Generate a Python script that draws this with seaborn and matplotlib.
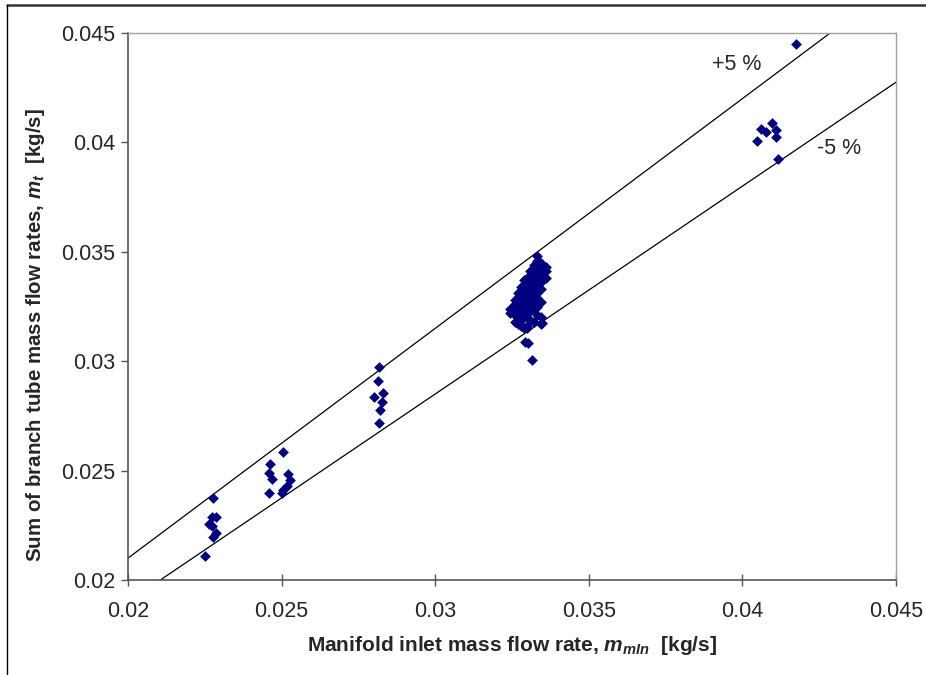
import numpy as np
import pandas as pd
import matplotlib
matplotlib.use("Agg")
import matplotlib.pyplot as plt
from matplotlib.lines import Line2D
import seaborn as sns

# ---- data ----
g1_x = [0.02278, 0.02272, 0.02286, 0.02265, 0.02274, 0.02286, 0.02278, 0.02251]
g1_y = [0.02373, 0.02289, 0.02287, 0.02256, 0.02247, 0.02216, 0.02198, 0.02111]

g2_x = [0.02462, 0.02458, 0.02468, 0.02459, 0.02506, 0.02522, 0.02527, 0.02516, 0.02506, 0.02500]
g2_y = [0.02530, 0.02488, 0.02460, 0.02399, 0.02586, 0.02483, 0.02457, 0.02430, 0.02411, 0.02399]

g3_x = [0.02817, 0.02813, 0.02802, 0.02831, 0.02826, 0.02819, 0.02817]
g3_y = [0.02975, 0.02911, 0.02838, 0.02856, 0.02815, 0.02777, 0.02719]

g4_cols = [0.03245, 0.0326, 0.0327, 0.0328, 0.0329, 0.0330, 0.0331, 0.0332, 0.0333, 0.03345, 0.0336]
g4_rows = [
    [0.0322, 0.0324],
    [0.0318, 0.0321, 0.0324, 0.0326, 0.0328],
    [0.0317, 0.0320, 0.0323, 0.0325, 0.0327, 0.0329, 0.0331],
    [0.0316, 0.0319, 0.0322, 0.0324, 0.0326, 0.0328, 0.0330, 0.0332, 0.0334],
    [0.0315, 0.0320, 0.0323, 0.0325, 0.0327, 0.0329, 0.0331, 0.0333, 0.0335, 0.0337],
    [0.0316, 0.0322, 0.0324, 0.0326, 0.0328, 0.0330, 0.0332, 0.0334, 0.0336, 0.0338],
    [0.0319, 0.0323, 0.0325, 0.0327, 0.0329, 0.0331, 0.0333, 0.0335, 0.0337, 0.0339, 0.0341],
    [0.0318, 0.0324, 0.0326, 0.0328, 0.0330, 0.0332, 0.0334, 0.0336, 0.0338, 0.0340, 0.0342, 0.0344],
    [0.0321, 0.0325, 0.0329, 0.0331, 0.0333, 0.0336, 0.0338, 0.0340, 0.0342, 0.0344, 0.0346, 0.0348],
    [0.0317, 0.0320, 0.0327, 0.0333, 0.0336, 0.0339, 0.0341, 0.0343, 0.0345],
    [0.0338, 0.0341, 0.0343],
]
g4_out_x = [0.03298, 0.03347, 0.03292, 0.03303, 0.03314]
g4_out_y = [0.03150, 0.03173, 0.03089, 0.03082, 0.03005]

g5_x = [0.04173, 0.04097, 0.04059, 0.04077, 0.04108, 0.04111, 0.04049, 0.04115]
g5_y = [0.04448, 0.04087, 0.04061, 0.04046, 0.04057, 0.04026, 0.04006, 0.03924]

band_factors = [1.05, 0.95]
band_labels = ["+5 %", "-5 %"]
ticks = [0.02, 0.025, 0.03, 0.035, 0.04, 0.045]
tick_labels = ["0.02", "0.025", "0.03", "0.035", "0.04", "0.045"]

# ---- assemble ----
xs = list(g1_x) + list(g2_x) + list(g3_x)
ys = list(g1_y) + list(g2_y) + list(g3_y)
for cx, rows in zip(g4_cols, g4_rows):
    xs += [cx] * len(rows)
    ys += rows
xs += g4_out_x + g5_x
ys += g4_out_y + g5_y
df = pd.DataFrame({"x": xs, "y": ys})

sns.set_theme(style="white")
plt.rcParams["font.family"] = ["Liberation Sans", "DejaVu Sans"]
plt.rcParams["mathtext.fontset"] = "custom"
plt.rcParams["mathtext.it"] = "Liberation Sans:bold:italic"
plt.rcParams["mathtext.rm"] = "Liberation Sans:bold"
plt.rcParams["mathtext.bf"] = "Liberation Sans:bold"

fig = plt.figure(figsize=(9.26, 6.75), dpi=100)
fig.patch.set_facecolor("white")
ax = fig.add_axes([128/926, 1-580/675, (896-128)/926, (580-33)/675])

# band lines
xl = np.array([0.02, 0.045])
for f in band_factors:
    ax.plot(xl, f * xl, color="black", lw=0.9, zorder=2)

sns.scatterplot(data=df, x="x", y="y", ax=ax, marker="D", s=30,
                color="#000080", edgecolor="#000080", linewidth=0, zorder=3)

ax.set_xlim(0.02, 0.045)
ax.set_ylim(0.02, 0.045)
ax.set_xticks(ticks)
ax.set_xticklabels(tick_labels)
ax.set_yticks(ticks)
ax.set_yticklabels(tick_labels)
ax.tick_params(axis="x", direction="inout", length=8, width=1, color="#555555",
               labelsize=15.5, pad=11, bottom=True)
ax.tick_params(axis="y", direction="out", length=5, width=1, color="#555555",
               labelsize=15.5, pad=4, left=True)

for s in ["left", "bottom"]:
    ax.spines[s].set_color("#555555")
    ax.spines[s].set_linewidth(1.2)
for s in ["top", "right"]:
    ax.spines[s].set_color("#a0a0a0")
    ax.spines[s].set_linewidth(1.0)

ax.set_xlabel("Manifold inlet mass flow rate, $m_{mIn}$  [kg/s]",
              fontsize=15, fontweight="bold", labelpad=9)
ax.set_ylabel("Sum of branch tube mass flow rates, $m_t$  [kg/s]",
              fontsize=14.8, fontweight="bold", labelpad=10)
ax.yaxis.set_label_coords(-0.106, 0.447)

ax.text(0.03982, 0.04354, band_labels[0], fontsize=15.5, ha="center", va="center")
ax.text(0.04314, 0.03970, band_labels[1], fontsize=15.5, ha="center", va="center")

# figure frame (top and left)
fig.add_artist(Line2D([7/926, 1], [1-5/675, 1-5/675], color="#333333", lw=1.8,
                      transform=fig.transFigure))
fig.add_artist(Line2D([7/926, 7/926], [0, 1-5/675], color="black", lw=1.0,
                      transform=fig.transFigure))

fig.savefig("out.png", dpi=100)
